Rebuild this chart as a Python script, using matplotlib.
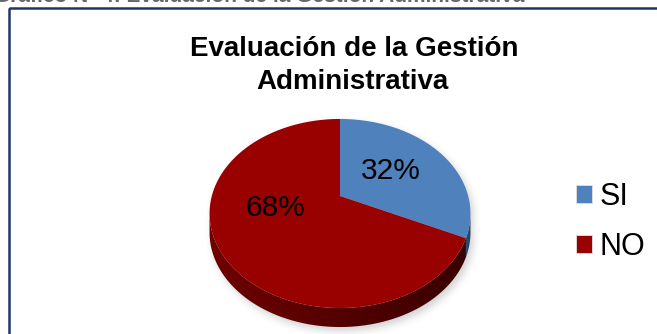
import numpy as np
import matplotlib
matplotlib.use("Agg")
import matplotlib.pyplot as plt
import matplotlib.transforms as mtransforms
from matplotlib.path import Path
from matplotlib.patches import Patch, Rectangle, Polygon

plt.rcParams['font.family'] = ['Liberation Sans', 'DejaVu Sans']

categorias = ['SI', 'NO']
porcentajes = [32, 68]
colores = ['#4f81bd', '#990000']
titulo = ['Evaluación de la Gestión', 'Administrativa']
encabezado = 'Gráfico N° 4: Evaluación de la Gestión Administrativa'

W, H = 657, 334


class Inclinacion(mtransforms.Transform):
    """Lleva el circulo unitario del pastel a una elipse vista en perspectiva."""
    input_dims = 2
    output_dims = 2

    def __init__(self, cx, cy, sx, sy, k):
        super().__init__()
        self.cx, self.cy, self.sx, self.sy, self.k = cx, cy, sx, sy, k

    def transform_non_affine(self, values):
        values = np.asarray(values, dtype=float).reshape(-1, 2)
        u, v = values[:, 0], values[:, 1]
        w = 1 + self.k * v
        return np.column_stack([self.cx + self.sx * u / w,
                                self.cy - self.sy * v / w])

    def transform_path_non_affine(self, path):
        # se aplanan las curvas antes de proyectar
        pts = np.vstack([seg(np.linspace(0, 1, 16))
                         for seg, _ in path.iter_bezier()])
        return Path(self.transform_non_affine(pts), closed=True)

    def dentro(self, X, Y):
        a = (X - self.cx) / self.sx
        b = (self.cy - Y) / self.sy
        den = 1 - self.k * b
        v = b / den
        u = a * (1 + self.k * v)
        return (den > 0) & (u ** 2 + v ** 2 <= 1)


fig = plt.figure(figsize=(W / 100, H / 100), dpi=100)
ax = fig.add_axes([0, 0, 1, 1])
ax.set_xlim(0, W)
ax.set_ylim(H, 0)
ax.set_autoscale_on(False)
ax.axis('off')

tilt = Inclinacion(340, 196, 128.2, 91.3, 0.185)
prof = 19

# sombra difusa bajo el pastel
yy, xx = np.mgrid[0:H, 0:W] + 0.5
cuerpo = np.zeros((H, W), bool)
for dy in np.linspace(0, prof, 8):
    cuerpo |= tilt.dentro(xx - 3, yy - dy - 4)
sombra = cuerpo.astype(float)
nucleo = np.ones(9) / 9
for _ in range(2):
    sombra = np.apply_along_axis(lambda r: np.convolve(r, nucleo, 'same'), 1, sombra)
    sombra = np.apply_along_axis(lambda c: np.convolve(c, nucleo, 'same'), 0, sombra)
rgba = np.zeros((H, W, 4))
rgba[..., :3] = 0.5
rgba[..., 3] = 0.35 * sombra
ax.imshow(rgba, extent=(0, W, H, 0), zorder=0, interpolation='bilinear')

# lateral del pastel (solo la parte frontal es visible)
fr = np.array(porcentajes) / sum(porcentajes)
bordes = 90 - 360 * np.concatenate([[0], np.cumsum(fr)])
a0 = np.degrees(np.arcsin(tilt.k))
frente = (-180 + a0, -a0)
lados = [('#2f5078', '#22395a'), ('#700000', '#380000')]
for i in range(len(porcentajes)):
    lo = max(min(bordes[i], bordes[i + 1]), frente[0])
    hi = min(max(bordes[i], bordes[i + 1]), frente[1])
    if hi <= lo:
        continue
    phi = np.radians(np.linspace(hi, lo, 120))
    arriba = tilt.transform(np.column_stack([np.cos(phi), np.sin(phi)]))
    abajo = arriba + [0, prof]
    poli = Polygon(np.vstack([arriba, abajo[::-1]]), closed=True,
                   facecolor='none', edgecolor='none', zorder=1)
    ax.add_patch(poli)
    c1 = np.array(matplotlib.colors.to_rgb(lados[i][0]))
    c2 = np.array(matplotlib.colors.to_rgb(lados[i][1]))
    t = np.linspace(0, 1, 256)[None, :, None]
    grad = c1 + (c2 - c1) * t
    x0, x1 = arriba[:, 0].min(), arriba[:, 0].max()
    y0, y1 = arriba[:, 1].min(), abajo[:, 1].max()
    img = ax.imshow(grad, extent=(x0 - 1, x1 + 1, y1 + 1, y0 - 1),
                    aspect='auto', zorder=1, interpolation='bilinear')
    img.set_clip_path(poli)

# cara superior
cuñas, _, autotexts = ax.pie(
    porcentajes, colors=colores, startangle=90, counterclock=False,
    autopct='%1.0f%%', frame=True,
    wedgeprops={'transform': tilt + ax.transData, 'linewidth': 0, 'zorder': 2},
    textprops={'fontsize': 21.5, 'color': 'black'})
ax.set_xlim(0, W)
ax.set_ylim(H, 0)
ax.set_aspect('auto')
ax.axis('off')

pos_pct = [(391, 171), (275, 208)]
for txt, pos in zip(autotexts, pos_pct):
    txt.set_transform(ax.transData)
    txt.set_position(pos)
    txt.set_zorder(4)

# titulo
ax.text(354, 56.5, titulo[0], ha='center', va='baseline', fontsize=20,
        fontweight='bold')
ax.text(352, 89, titulo[1], ha='center', va='baseline', fontsize=20,
        fontweight='bold')

# linea de texto superior, recortada por el borde
ax.text(-6, 1.5, encabezado, ha='left', va='baseline', fontsize=15,
        fontweight='bold', color='#666666', clip_on=False)

# marco del grafico
ax.add_patch(Rectangle((9, 8), W + 20, H + 20, facecolor='none',
                       edgecolor='#1f3864', linewidth=1.8, zorder=5))

manejadores = [Patch(facecolor=c, edgecolor='#e0e0e0', linewidth=0.6)
               for c in colores]
fig.legend(manejadores, categorias, loc='upper left',
           bbox_to_anchor=(576 / W, 1 - 182 / H), frameon=False,
           fontsize=22, handlelength=0.52, handleheight=0.52,
           handletextpad=0.25, labelspacing=0.64, borderpad=0,
           borderaxespad=0)

fig.savefig('out.png', dpi=100)
